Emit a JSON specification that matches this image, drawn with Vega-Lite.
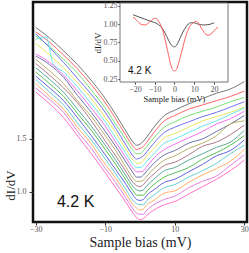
{
"$schema": "https://vega.github.io/schema/vega-lite/v6.json",
"width": 214, "height": 220,
"autosize": {"type": "none"},
"padding": {"left": 33, "top": 2, "right": 2, "bottom": 31},
"config": {"view": {"stroke": "#111", "strokeWidth": 2.5}, "axis": {"grid": false, "domain": false, "labelFont": "Liberation Serif", "titleFont": "Liberation Serif", "labelColor": "#555", "titleColor": "#222", "tickColor": "#333", "labelFontSize": 8, "titleFontWeight": "normal"}},
"datasets": {
"main": [
{"c":0,"x":-30,"y":2.55},{"c":0,"x":-26,"y":2.45},{"c":0,"x":-22,"y":2.33},{"c":0,"x":-18,"y":2.20},{"c":0,"x":-14,"y":2.05},{"c":0,"x":-10,"y":1.88},{"c":0,"x":-7,"y":1.73},{"c":0,"x":-4,"y":1.57},{"c":0,"x":-2,"y":1.47},{"c":0,"x":-1,"y":1.44},{"c":0,"x":0,"y":1.45},{"c":0,"x":1,"y":1.48},{"c":0,"x":2,"y":1.52},{"c":0,"x":4,"y":1.61},{"c":0,"x":7,"y":1.72},{"c":0,"x":10,"y":1.77},{"c":0,"x":14,"y":1.83},{"c":0,"x":18,"y":1.88},{"c":0,"x":22,"y":1.93},{"c":0,"x":26,"y":1.97},{"c":0,"x":30,"y":2.04},
{"c":1,"x":-30,"y":2.51},{"c":1,"x":-26,"y":2.41},{"c":1,"x":-22,"y":2.29},{"c":1,"x":-18,"y":2.16},{"c":1,"x":-14,"y":2.01},{"c":1,"x":-10,"y":1.84},{"c":1,"x":-7,"y":1.69},{"c":1,"x":-4,"y":1.53},{"c":1,"x":-2,"y":1.43},{"c":1,"x":-1,"y":1.40},{"c":1,"x":0,"y":1.41},{"c":1,"x":1,"y":1.43},{"c":1,"x":2,"y":1.47},{"c":1,"x":4,"y":1.56},{"c":1,"x":7,"y":1.67},{"c":1,"x":10,"y":1.72},{"c":1,"x":14,"y":1.78},{"c":1,"x":18,"y":1.82},{"c":1,"x":22,"y":1.86},{"c":1,"x":26,"y":1.90},{"c":1,"x":30,"y":1.95},
{"c":2,"x":-30,"y":2.47},{"c":2,"x":-26,"y":2.37},{"c":2,"x":-22,"y":2.25},{"c":2,"x":-18,"y":2.12},{"c":2,"x":-14,"y":1.96},{"c":2,"x":-10,"y":1.79},{"c":2,"x":-7,"y":1.64},{"c":2,"x":-4,"y":1.49},{"c":2,"x":-2,"y":1.39},{"c":2,"x":-1,"y":1.36},{"c":2,"x":0,"y":1.36},{"c":2,"x":1,"y":1.39},{"c":2,"x":2,"y":1.43},{"c":2,"x":4,"y":1.51},{"c":2,"x":7,"y":1.61},{"c":2,"x":10,"y":1.66},{"c":2,"x":14,"y":1.72},{"c":2,"x":18,"y":1.76},{"c":2,"x":22,"y":1.80},{"c":2,"x":26,"y":1.85},{"c":2,"x":30,"y":1.89},
{"c":3,"x":-30,"y":2.49},{"c":3,"x":-26,"y":2.36},{"c":3,"x":-22,"y":2.22},{"c":3,"x":-18,"y":2.07},{"c":3,"x":-14,"y":1.92},{"c":3,"x":-10,"y":1.75},{"c":3,"x":-7,"y":1.60},{"c":3,"x":-4,"y":1.44},{"c":3,"x":-2,"y":1.34},{"c":3,"x":-1,"y":1.31},{"c":3,"x":0,"y":1.32},{"c":3,"x":1,"y":1.34},{"c":3,"x":2,"y":1.38},{"c":3,"x":4,"y":1.46},{"c":3,"x":7,"y":1.56},{"c":3,"x":10,"y":1.61},{"c":3,"x":14,"y":1.66},{"c":3,"x":18,"y":1.71},{"c":3,"x":22,"y":1.75},{"c":3,"x":26,"y":1.80},{"c":3,"x":30,"y":1.85},
{"c":4,"x":-30,"y":2.40},{"c":4,"x":-26,"y":2.29},{"c":4,"x":-22,"y":2.17},{"c":4,"x":-18,"y":2.03},{"c":4,"x":-14,"y":1.88},{"c":4,"x":-10,"y":1.70},{"c":4,"x":-7,"y":1.56},{"c":4,"x":-4,"y":1.40},{"c":4,"x":-2,"y":1.30},{"c":4,"x":-1,"y":1.27},{"c":4,"x":0,"y":1.27},{"c":4,"x":1,"y":1.30},{"c":4,"x":2,"y":1.34},{"c":4,"x":4,"y":1.41},{"c":4,"x":7,"y":1.51},{"c":4,"x":10,"y":1.55},{"c":4,"x":14,"y":1.61},{"c":4,"x":18,"y":1.67},{"c":4,"x":22,"y":1.71},{"c":4,"x":26,"y":1.75},{"c":4,"x":30,"y":1.80},
{"c":5,"x":-30,"y":2.44},{"c":5,"x":-27,"y":2.46},{"c":5,"x":-25,"y":2.21},{"c":5,"x":-22,"y":2.13},{"c":5,"x":-18,"y":1.99},{"c":5,"x":-14,"y":1.83},{"c":5,"x":-10,"y":1.66},{"c":5,"x":-7,"y":1.51},{"c":5,"x":-4,"y":1.36},{"c":5,"x":-2,"y":1.26},{"c":5,"x":-1,"y":1.23},{"c":5,"x":0,"y":1.23},{"c":5,"x":1,"y":1.25},{"c":5,"x":2,"y":1.29},{"c":5,"x":4,"y":1.36},{"c":5,"x":7,"y":1.46},{"c":5,"x":10,"y":1.50},{"c":5,"x":14,"y":1.56},{"c":5,"x":18,"y":1.62},{"c":5,"x":22,"y":1.67},{"c":5,"x":26,"y":1.73},{"c":5,"x":30,"y":1.79},
{"c":6,"x":-30,"y":2.30},{"c":6,"x":-26,"y":2.22},{"c":6,"x":-22,"y":2.10},{"c":6,"x":-18,"y":1.95},{"c":6,"x":-14,"y":1.79},{"c":6,"x":-10,"y":1.62},{"c":6,"x":-7,"y":1.47},{"c":6,"x":-4,"y":1.32},{"c":6,"x":-2,"y":1.22},{"c":6,"x":-1,"y":1.19},{"c":6,"x":0,"y":1.19},{"c":6,"x":1,"y":1.20},{"c":6,"x":2,"y":1.24},{"c":6,"x":4,"y":1.32},{"c":6,"x":7,"y":1.40},{"c":6,"x":10,"y":1.45},{"c":6,"x":14,"y":1.51},{"c":6,"x":18,"y":1.57},{"c":6,"x":22,"y":1.64},{"c":6,"x":26,"y":1.69},{"c":6,"x":30,"y":1.76},
{"c":7,"x":-30,"y":2.28},{"c":7,"x":-26,"y":2.20},{"c":7,"x":-22,"y":2.08},{"c":7,"x":-18,"y":1.91},{"c":7,"x":-14,"y":1.75},{"c":7,"x":-10,"y":1.57},{"c":7,"x":-7,"y":1.43},{"c":7,"x":-4,"y":1.28},{"c":7,"x":-2,"y":1.18},{"c":7,"x":-1,"y":1.14},{"c":7,"x":0,"y":1.14},{"c":7,"x":1,"y":1.16},{"c":7,"x":2,"y":1.20},{"c":7,"x":4,"y":1.27},{"c":7,"x":7,"y":1.35},{"c":7,"x":10,"y":1.39},{"c":7,"x":14,"y":1.46},{"c":7,"x":18,"y":1.50},{"c":7,"x":22,"y":1.57},{"c":7,"x":26,"y":1.64},{"c":7,"x":30,"y":1.72},
{"c":8,"x":-30,"y":2.25},{"c":8,"x":-26,"y":2.14},{"c":8,"x":-22,"y":2.02},{"c":8,"x":-18,"y":1.86},{"c":8,"x":-14,"y":1.71},{"c":8,"x":-10,"y":1.53},{"c":8,"x":-7,"y":1.39},{"c":8,"x":-4,"y":1.23},{"c":8,"x":-2,"y":1.13},{"c":8,"x":-1,"y":1.10},{"c":8,"x":0,"y":1.10},{"c":8,"x":1,"y":1.11},{"c":8,"x":2,"y":1.15},{"c":8,"x":4,"y":1.22},{"c":8,"x":7,"y":1.30},{"c":8,"x":10,"y":1.34},{"c":8,"x":14,"y":1.41},{"c":8,"x":18,"y":1.46},{"c":8,"x":22,"y":1.53},{"c":8,"x":26,"y":1.64},{"c":8,"x":30,"y":1.67},
{"c":9,"x":-30,"y":2.21},{"c":9,"x":-26,"y":2.10},{"c":9,"x":-22,"y":1.98},{"c":9,"x":-18,"y":1.84},{"c":9,"x":-14,"y":1.67},{"c":9,"x":-10,"y":1.48},{"c":9,"x":-7,"y":1.34},{"c":9,"x":-4,"y":1.19},{"c":9,"x":-2,"y":1.09},{"c":9,"x":-1,"y":1.06},{"c":9,"x":0,"y":1.05},{"c":9,"x":1,"y":1.07},{"c":9,"x":2,"y":1.11},{"c":9,"x":4,"y":1.17},{"c":9,"x":7,"y":1.25},{"c":9,"x":10,"y":1.28},{"c":9,"x":14,"y":1.35},{"c":9,"x":18,"y":1.43},{"c":9,"x":22,"y":1.47},{"c":9,"x":26,"y":1.54},{"c":9,"x":30,"y":1.63},
{"c":10,"x":-30,"y":2.17},{"c":10,"x":-26,"y":2.06},{"c":10,"x":-22,"y":1.94},{"c":10,"x":-18,"y":1.78},{"c":10,"x":-14,"y":1.62},{"c":10,"x":-10,"y":1.44},{"c":10,"x":-7,"y":1.30},{"c":10,"x":-4,"y":1.15},{"c":10,"x":-2,"y":1.05},{"c":10,"x":-1,"y":1.02},{"c":10,"x":0,"y":1.01},{"c":10,"x":1,"y":1.02},{"c":10,"x":2,"y":1.06},{"c":10,"x":4,"y":1.12},{"c":10,"x":7,"y":1.20},{"c":10,"x":10,"y":1.23},{"c":10,"x":14,"y":1.30},{"c":10,"x":18,"y":1.36},{"c":10,"x":22,"y":1.42},{"c":10,"x":26,"y":1.47},{"c":10,"x":30,"y":1.58},
{"c":11,"x":-30,"y":2.13},{"c":11,"x":-26,"y":2.02},{"c":11,"x":-22,"y":1.90},{"c":11,"x":-18,"y":1.74},{"c":11,"x":-14,"y":1.58},{"c":11,"x":-10,"y":1.40},{"c":11,"x":-7,"y":1.26},{"c":11,"x":-4,"y":1.11},{"c":11,"x":-2,"y":1.01},{"c":11,"x":-1,"y":0.97},{"c":11,"x":0,"y":0.97},{"c":11,"x":1,"y":0.97},{"c":11,"x":2,"y":1.01},{"c":11,"x":4,"y":1.07},{"c":11,"x":7,"y":1.14},{"c":11,"x":10,"y":1.18},{"c":11,"x":14,"y":1.23},{"c":11,"x":18,"y":1.31},{"c":11,"x":22,"y":1.37},{"c":11,"x":26,"y":1.44},{"c":11,"x":30,"y":1.53},
{"c":12,"x":-30,"y":2.09},{"c":12,"x":-26,"y":1.98},{"c":12,"x":-22,"y":1.86},{"c":12,"x":-18,"y":1.70},{"c":12,"x":-14,"y":1.53},{"c":12,"x":-10,"y":1.35},{"c":12,"x":-7,"y":1.21},{"c":12,"x":-4,"y":1.07},{"c":12,"x":-2,"y":0.97},{"c":12,"x":-1,"y":0.93},{"c":12,"x":0,"y":0.92},{"c":12,"x":1,"y":0.93},{"c":12,"x":2,"y":0.97},{"c":12,"x":4,"y":1.02},{"c":12,"x":7,"y":1.09},{"c":12,"x":10,"y":1.12},{"c":12,"x":14,"y":1.19},{"c":12,"x":18,"y":1.26},{"c":12,"x":22,"y":1.34},{"c":12,"x":26,"y":1.39},{"c":12,"x":30,"y":1.49},
{"c":13,"x":-30,"y":2.06},{"c":13,"x":-26,"y":1.94},{"c":13,"x":-22,"y":1.82},{"c":13,"x":-18,"y":1.65},{"c":13,"x":-14,"y":1.49},{"c":13,"x":-10,"y":1.31},{"c":13,"x":-7,"y":1.17},{"c":13,"x":-4,"y":1.02},{"c":13,"x":-2,"y":0.92},{"c":13,"x":-1,"y":0.89},{"c":13,"x":0,"y":0.88},{"c":13,"x":1,"y":0.88},{"c":13,"x":2,"y":0.92},{"c":13,"x":4,"y":0.97},{"c":13,"x":7,"y":1.04},{"c":13,"x":10,"y":1.07},{"c":13,"x":14,"y":1.14},{"c":13,"x":18,"y":1.20},{"c":13,"x":22,"y":1.27},{"c":13,"x":26,"y":1.36},{"c":13,"x":30,"y":1.44},
{"c":14,"x":-30,"y":2.02},{"c":14,"x":-26,"y":1.90},{"c":14,"x":-22,"y":1.78},{"c":14,"x":-18,"y":1.61},{"c":14,"x":-14,"y":1.45},{"c":14,"x":-10,"y":1.26},{"c":14,"x":-7,"y":1.13},{"c":14,"x":-4,"y":0.98},{"c":14,"x":-2,"y":0.88},{"c":14,"x":-1,"y":0.85},{"c":14,"x":0,"y":0.83},{"c":14,"x":1,"y":0.84},{"c":14,"x":2,"y":0.88},{"c":14,"x":4,"y":0.92},{"c":14,"x":7,"y":0.99},{"c":14,"x":10,"y":1.01},{"c":14,"x":14,"y":1.09},{"c":14,"x":18,"y":1.16},{"c":14,"x":22,"y":1.22},{"c":14,"x":26,"y":1.29},{"c":14,"x":30,"y":1.40},
{"c":15,"x":-30,"y":1.98},{"c":15,"x":-26,"y":1.87},{"c":15,"x":-22,"y":1.75},{"c":15,"x":-18,"y":1.57},{"c":15,"x":-14,"y":1.41},{"c":15,"x":-10,"y":1.22},{"c":15,"x":-7,"y":1.09},{"c":15,"x":-4,"y":0.94},{"c":15,"x":-2,"y":0.84},{"c":15,"x":-1,"y":0.80},{"c":15,"x":0,"y":0.79},{"c":15,"x":1,"y":0.79},{"c":15,"x":2,"y":0.83},{"c":15,"x":4,"y":0.88},{"c":15,"x":7,"y":0.93},{"c":15,"x":10,"y":0.96},{"c":15,"x":14,"y":1.04},{"c":15,"x":18,"y":1.10},{"c":15,"x":22,"y":1.15},{"c":15,"x":26,"y":1.25},{"c":15,"x":30,"y":1.35},
{"c":16,"x":-30,"y":1.94},{"c":16,"x":-26,"y":1.83},{"c":16,"x":-22,"y":1.70},{"c":16,"x":-18,"y":1.53},{"c":16,"x":-14,"y":1.36},{"c":16,"x":-10,"y":1.18},{"c":16,"x":-7,"y":1.04},{"c":16,"x":-4,"y":0.90},{"c":16,"x":-2,"y":0.80},{"c":16,"x":-1,"y":0.76},{"c":16,"x":0,"y":0.74},{"c":16,"x":1,"y":0.75},{"c":16,"x":2,"y":0.78},{"c":16,"x":4,"y":0.83},{"c":16,"x":7,"y":0.88},{"c":16,"x":10,"y":0.91},{"c":16,"x":14,"y":0.98},{"c":16,"x":18,"y":1.05},{"c":16,"x":22,"y":1.12},{"c":16,"x":26,"y":1.20},{"c":16,"x":30,"y":1.30}
],
"inset": [
{"s":"A","x":-21,"y":1.13},{"s":"A","x":-18,"y":1.10},{"s":"A","x":-15,"y":1.07},{"s":"A","x":-12,"y":1.04},{"s":"A","x":-9,"y":1.01},{"s":"A","x":-7,"y":0.97},{"s":"A","x":-5,"y":0.89},{"s":"A","x":-3,"y":0.78},{"s":"A","x":-2,"y":0.73},{"s":"A","x":-1,"y":0.70},{"s":"A","x":0,"y":0.69},{"s":"A","x":1,"y":0.71},{"s":"A","x":2,"y":0.76},{"s":"A","x":4,"y":0.88},{"s":"A","x":6,"y":0.97},{"s":"A","x":8,"y":1.02},{"s":"A","x":10,"y":1.02},{"s":"A","x":12,"y":1.00},{"s":"A","x":15,"y":0.99},{"s":"A","x":18,"y":1.00},{"s":"A","x":20,"y":1.02},
{"s":"B","x":-21,"y":1.10},{"s":"B","x":-19,"y":1.05},{"s":"B","x":-17,"y":1.00},{"s":"B","x":-15,"y":0.99},{"s":"B","x":-13,"y":1.02},{"s":"B","x":-11,"y":1.07},{"s":"B","x":-9.5,"y":1.08},{"s":"B","x":-8,"y":1.04},{"s":"B","x":-6,"y":0.92},{"s":"B","x":-4,"y":0.70},{"s":"B","x":-2,"y":0.46},{"s":"B","x":-1,"y":0.38},{"s":"B","x":0,"y":0.36},{"s":"B","x":1,"y":0.38},{"s":"B","x":2,"y":0.46},{"s":"B","x":4,"y":0.66},{"s":"B","x":6,"y":0.86},{"s":"B","x":8,"y":0.98},{"s":"B","x":10,"y":1.03},{"s":"B","x":11,"y":1.04},{"s":"B","x":12,"y":1.02},{"s":"B","x":14,"y":0.93},{"s":"B","x":16,"y":0.86},{"s":"B","x":17,"y":0.85},{"s":"B","x":19,"y":0.88},{"s":"B","x":21,"y":0.94},{"s":"B","x":22,"y":0.96}
]
},
"layer": [
 {"layer": [
  {"data": {"name": "main"},
   "mark": {"type": "line", "strokeWidth": 1, "interpolate": "monotone"},
   "encoding": {
    "x": {"field": "x", "type": "quantitative", "scale": {"domain": [-30.8, 30.8], "nice": false, "zero": false},
      "axis": {"values": [-30,-20,-10,0,10,20,30], "title": "Sample bias (mV)", "titleFontSize": 14, "titlePadding": 2, "tickSize": 3, "labelPadding": 0}},
    "y": {"field": "y", "type": "quantitative", "scale": {"domain": [0.717, 2.79], "nice": false, "zero": false},
      "axis": {"values": [1, 1.5], "format": ".1f", "title": "dI/dV", "titleFontSize": 13, "titleY": 183, "titleX": -16, "tickSize": 4, "labelPadding": 3}},
    "color": {"field": "c", "type": "nominal", "legend": null,
      "scale": {"domain": [0,1,2,3,4,5,6,7,8,9,10,11,12,13,14,15,16],
        "range": ["#777777","#ff6666","#77e077","#7070f0","#e6e660","#66e8f0","#f070f0","#7070a8","#b8ae6a","#b07888","#5aa898","#55c055","#6464e0","#66d0d0","#ffb066","#e080e0","#ff70c8"]}}
   }},
  {"data": {"values": [{"t": "4.2 K", "x": -23.9, "y": 0.858}]},
   "mark": {"type": "text", "align": "left", "baseline": "alphabetic", "font": "Liberation Sans", "fontSize": 16, "color": "#111"},
   "encoding": {"x": {"field": "x", "type": "quantitative"}, "y": {"field": "y", "type": "quantitative"}, "text": {"field": "t"}}}
 ]},
 {"layer": [
  {"data": {"values": [{}]},
   "mark": {"type": "rect", "fill": "white", "stroke": "#777", "strokeWidth": 1},
   "encoding": {"x": {"datum": -27.6, "type": "quantitative"}, "x2": {"datum": 27.1}, "y": {"datum": 0.209, "type": "quantitative"}, "y2": {"datum": 1.291}}},
  {"data": {"name": "inset"},
   "mark": {"type": "line", "strokeWidth": 1, "interpolate": "monotone"},
   "encoding": {
    "x": {"field": "x", "type": "quantitative", "scale": {"domain": [-27.6, 27.1], "range": [87, 195], "nice": false, "zero": false},
      "axis": {"orient": "bottom", "offset": -140, "values": [-20,-10,0,10,20], "title": "Sample bias (mV)", "titleFontSize": 8.5, "titlePadding": 1, "tickSize": 2, "labelPadding": 1}},
    "y": {"field": "y", "type": "quantitative", "scale": {"domain": [0.209, 1.291], "range": [80, 1], "nice": false, "zero": false},
      "axis": {"orient": "left", "offset": -87, "values": [0.25,0.5,0.75,1,1.25], "format": ".2f", "title": "dI/dV", "titleFontSize": 9, "titlePadding": 1, "tickSize": 2, "labelPadding": 1}},
    "color": {"field": "s", "type": "nominal", "legend": null, "scale": {"domain": ["A","B"], "range": ["#555555","#ff5f5f"]}}
   }},
  {"data": {"values": [{"t": "4.2 K", "x": -23.55, "y": 0.318}]},
   "mark": {"type": "text", "align": "left", "baseline": "alphabetic", "font": "Liberation Sans", "fontSize": 10, "color": "#111"},
   "encoding": {"x": {"field": "x", "type": "quantitative"}, "y": {"field": "y", "type": "quantitative"}, "text": {"field": "t"}}}
 ]}
],
"resolve": {"scale": {"x": "independent", "y": "independent", "color": "independent"}, "axis": {"x": "independent", "y": "independent"}}
}
